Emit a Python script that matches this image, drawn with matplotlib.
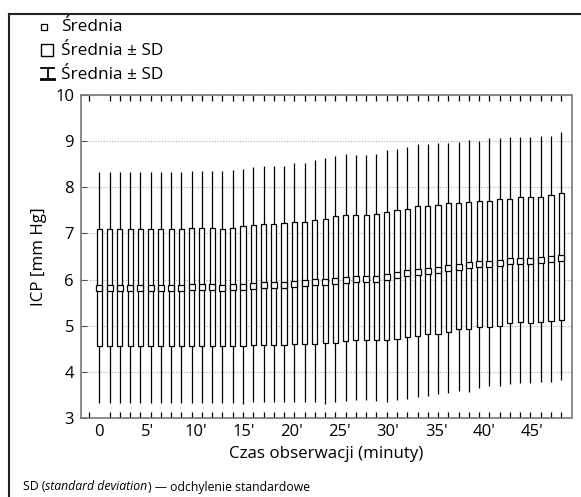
import numpy as np
import matplotlib
matplotlib.use('Agg')
from matplotlib import pyplot as plt
from matplotlib.lines import Line2D
from matplotlib.patches import Rectangle


plt.rcParams['font.family'] = ['Open Sans', 'DejaVu Sans']

# dane (46 pomiarów)
srednia = [5.81, 5.81, 5.81, 5.81, 5.81, 5.81, 5.81, 5.81, 5.81, 5.83,
           5.83, 5.83, 5.81, 5.83, 5.83, 5.86, 5.88, 5.88, 5.88, 5.90,
           5.93, 5.95, 5.95, 5.97, 6.00, 6.02, 6.02, 6.02, 6.06, 6.09,
           6.15, 6.17, 6.18, 6.21, 6.24, 6.28, 6.31, 6.34, 6.34, 6.36,
           6.40, 6.40, 6.41, 6.43, 6.45, 6.47]
sd_gora = [7.10, 7.10, 7.10, 7.10, 7.10, 7.10, 7.10, 7.10, 7.10, 7.11,
           7.11, 7.11, 7.10, 7.12, 7.16, 7.19, 7.21, 7.21, 7.23, 7.25,
           7.25, 7.30, 7.32, 7.37, 7.41, 7.41, 7.41, 7.43, 7.47, 7.50,
           7.54, 7.59, 7.60, 7.61, 7.65, 7.66, 7.69, 7.71, 7.71, 7.75,
           7.75, 7.78, 7.79, 7.79, 7.83, 7.88]
sd_dol = [4.56, 4.56, 4.56, 4.56, 4.56, 4.56, 4.56, 4.56, 4.56, 4.56,
          4.56, 4.56, 4.56, 4.57, 4.57, 4.58, 4.59, 4.59, 4.59, 4.60,
          4.60, 4.60, 4.62, 4.62, 4.67, 4.69, 4.69, 4.69, 4.69, 4.72,
          4.76, 4.77, 4.81, 4.81, 4.87, 4.92, 4.93, 4.97, 4.98, 5.00,
          5.05, 5.07, 5.05, 5.07, 5.10, 5.13]
was_gora = [8.34, 8.34, 8.34, 8.34, 8.34, 8.34, 8.34, 8.34, 8.34, 8.35,
            8.36, 8.36, 8.36, 8.38, 8.40, 8.44, 8.47, 8.47, 8.47, 8.52,
            8.52, 8.59, 8.63, 8.67, 8.73, 8.70, 8.70, 8.73, 8.80, 8.83,
            8.88, 8.93, 8.93, 8.97, 8.97, 8.98, 9.03, 9.01, 9.06, 9.06,
            9.09, 9.09, 9.10, 9.11, 9.12, 9.19]
was_dol = [3.33, 3.33, 3.33, 3.33, 3.33, 3.33, 3.33, 3.33, 3.33, 3.33,
           3.33, 3.33, 3.33, 3.33, 3.30, 3.35, 3.35, 3.35, 3.35, 3.35,
           3.35, 3.35, 3.30, 3.35, 3.36, 3.38, 3.38, 3.36, 3.35, 3.38,
           3.41, 3.45, 3.48, 3.52, 3.54, 3.59, 3.57, 3.66, 3.69, 3.69,
           3.74, 3.76, 3.76, 3.77, 3.79, 3.82]
etykiety_x = ["0", "5'", "10'", "15'", "20'", "25'", "30'", "35'", "40'", "45'"]
minuty_etykiet = [0, 5, 10, 15, 20, 25, 30, 35, 40, 45]
etykiety_y = ['3', '4', '5', '6', '7', '8', '9', '10']

W, H = 581, 497
fig = plt.figure(figsize=(W / 100, H / 100), dpi=100)


def fx(px):
    return px / W


def fy(py):
    return 1 - py / H


ax = fig.add_axes([fx(81), fy(418), fx(571.5) - fx(81), fy(95) - fy(418)])

n = len(srednia)
x = np.arange(n)
srednia = np.array(srednia)
sd_gora = np.array(sd_gora)
sd_dol = np.array(sd_dol)

# wąsy
ax.vlines(x, was_dol, sd_dol, colors='black', linewidth=0.9, zorder=2)
ax.vlines(x, sd_gora, was_gora, colors='black', linewidth=0.9, zorder=2)
# pudełka
ax.bar(x, sd_gora - sd_dol, bottom=sd_dol, width=0.5, facecolor='white',
       edgecolor='black', linewidth=0.9, zorder=3)
# średnie
ax.plot(x, srednia, linestyle='none', marker='s', markersize=4.3,
        markerfacecolor='white', markeredgecolor='black',
        markeredgewidth=0.9, zorder=4)

ax.set_xlim(-1.78, n)
ax.set_ylim(3, 10)
ax.set_yticks(range(3, 11))
ax.set_yticklabels(etykiety_y)
# etykiety minut: 46 pomiarów rozłożonych na 48 minut
ax.set_xticks([m * (n - 1) / 48 for m in minuty_etykiet])
ax.set_xticklabels(etykiety_x)
ax.set_xticks(np.arange(-1, n), minor=True)

ax.tick_params(axis='x', which='major', length=0, pad=4, labelsize=12)
ax.tick_params(axis='x', which='minor', direction='in', length=4,
               width=0.9, top=True, bottom=True)
ax.tick_params(axis='y', which='major', direction='in', length=4,
               width=0.8, pad=5, labelsize=12, color='#555555')

for s in ax.spines.values():
    s.set_color('#777777')
    s.set_linewidth(1.2)

ax.yaxis.grid(True, linestyle=(0, (1, 1.5)), color='#aaaaaa', linewidth=0.8)
ax.set_axisbelow(True)

ax.set_xlabel('Czas obserwacji (minuty)', fontsize=12.2, labelpad=5)
ax.set_ylabel('ICP [mm Hg]', fontsize=12.2, labelpad=6)

# legenda
fig.add_artist(Line2D([fx(44)], [fy(27)], marker='s', markersize=4.3,
                      markerfacecolor='white', markeredgecolor='black',
                      markeredgewidth=0.9, transform=fig.transFigure))
fig.add_artist(Rectangle((fx(41), fy(56)), fx(12.5), fy(0) - fy(12.5),
                         facecolor='white', edgecolor='black', linewidth=1.0,
                         transform=fig.transFigure))
fig.add_artist(Line2D([fx(47.5), fx(47.5)], [fy(68), fy(79)], color='black',
                      linewidth=1.3, transform=fig.transFigure))
fig.add_artist(Line2D([fx(41), fx(54)], [fy(68), fy(68)], color='black',
                      linewidth=1.3, transform=fig.transFigure))
fig.add_artist(Line2D([fx(41), fx(54)], [fy(79), fy(79)], color='black',
                      linewidth=2.0, transform=fig.transFigure))
fig.text(fx(61), fy(27), 'Średnia', fontsize=12.4, va='center')
fig.text(fx(61), fy(51), 'Średnia ± SD', fontsize=12.4, va='center')
fig.text(fx(61), fy(75), 'Średnia ± SD', fontsize=12.4, va='center')

# ramka
fig.add_artist(Line2D([fx(8.5), fx(W)], [fy(14), fy(14)], color='#222222',
                      linewidth=1.5, transform=fig.transFigure))
fig.add_artist(Line2D([fx(8.5), fx(8.5)], [fy(14), fy(H)], color='#222222',
                      linewidth=1.5, transform=fig.transFigure))

# przypis
fig.canvas.draw()
r = fig.canvas.get_renderer()
x0 = 23
for tekst, styl in [('SD (', 'normal'), ('standard deviation', 'italic'),
                    (') — odchylenie standardowe', 'normal')]:
    t = fig.text(fx(x0), fy(487), tekst, fontsize=8.8, style=styl, va='center')
    x0 += t.get_window_extent(r).width

fig.savefig('out.png', dpi=100)
